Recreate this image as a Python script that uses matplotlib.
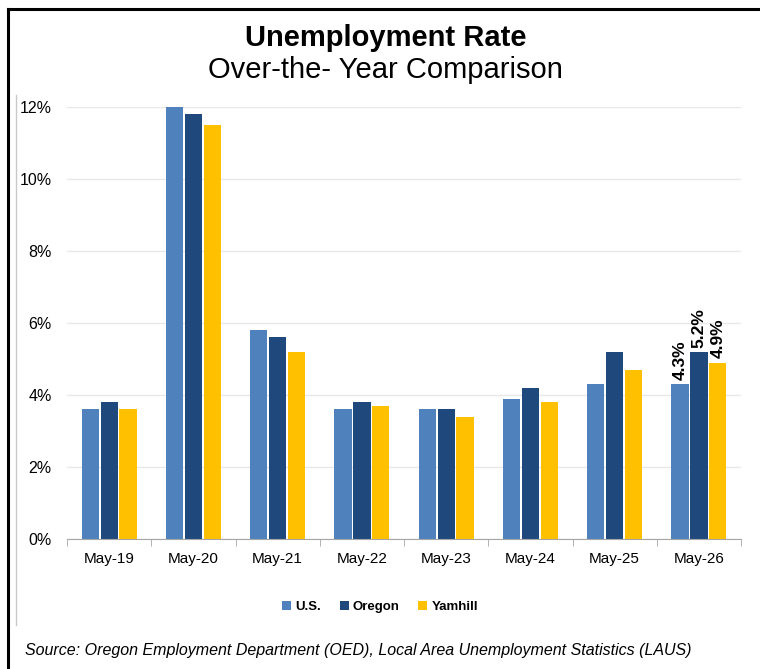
import numpy as np
import matplotlib.pyplot as plt
from matplotlib.lines import Line2D

categories = ["May-19", "May-20", "May-21", "May-22", "May-23", "May-24", "May-25", "May-26"]
us = [3.6, 12.0, 5.8, 3.6, 3.6, 3.9, 4.3, 4.3]
oregon = [3.8, 11.8, 5.6, 3.8, 3.6, 4.2, 5.2, 5.2]
yamhill = [3.6, 11.5, 5.2, 3.7, 3.4, 3.8, 4.7, 4.9]
series_names = ["U.S.", "Oregon", "Yamhill"]
colors = ["#4F81BD", "#1F497D", "#FFC000"]
yticks = [0, 2, 4, 6, 8, 10, 12]

plt.rcParams['font.family'] = ['Liberation Sans', 'DejaVu Sans']

fig = plt.figure(figsize=(7.6, 6.69), dpi=100)
ax = fig.add_axes([0.0882, 0.1943, 0.8868, 0.6457])

x = np.arange(len(categories))
w = 0.225
series = [us, oregon, yamhill]
for i, (vals, name, c) in enumerate(zip(series, series_names, colors)):
    ax.bar(x + (i - 1) * w, vals, width=w - 0.02, color=c, label=name, zorder=3)

# labels on the last group
last = len(categories) - 1
for i, vals in enumerate(series):
    ax.text(last + (i - 1) * w, vals[last] + 0.12, "%.1f%%" % vals[last],
            rotation=90, ha="center", va="bottom", fontsize=12.5, fontweight="bold")

ax.set_xlim(-0.5, len(categories) - 0.5)
ax.set_ylim(0, 12)
ax.set_yticks(yticks)
ax.set_yticklabels(["%d%%" % t for t in yticks], fontsize=11.5)
ax.set_xticks(x)
ax.set_xticklabels(categories, fontsize=11)
ax.set_xticks(np.arange(-0.5, len(categories), 1), minor=True)
ax.tick_params(axis="x", which="major", length=0, pad=9)
ax.tick_params(axis="x", which="minor", length=5, color="#a6a6a6")
ax.tick_params(axis="y", length=0, pad=11)

ax.grid(axis="y", color="#e8e8e8", linewidth=1, zorder=0)
for s in ["top", "right", "left"]:
    ax.spines[s].set_visible(False)
ax.spines["bottom"].set_color("#a6a6a6")
ax.spines["bottom"].set_zorder(4)

fig.legend(loc="center", bbox_to_anchor=(0.5, 0.093), ncol=3, frameon=False,
           prop={"weight": "bold", "size": 9.5}, handlelength=0.7, handleheight=0.7,
           handletextpad=0.3, columnspacing=1.4)

fig.text(0.507, 0.943, "Unemployment Rate", ha="center", va="center",
         fontsize=21, fontweight="bold")
fig.text(0.507, 0.895, "Over-the- Year Comparison", ha="center", va="center", fontsize=21)
fig.text(0.033, 0.028, "Source: Oregon Employment Department (OED), Local Area Unemployment Statistics (LAUS)",
         ha="left", va="center", fontsize=11.5, style="italic")

# outer frame lines
fig.add_artist(Line2D([0.011, 0.011], [0, 0.987], color="black", linewidth=2.2))
fig.add_artist(Line2D([0.011, 1.0], [0.987, 0.987], color="black", linewidth=2.2))
fig.add_artist(Line2D([0.021, 0.021], [0.066, 0.858], color="#c8c8c8", linewidth=1))

fig.savefig("out.png", dpi=100)
